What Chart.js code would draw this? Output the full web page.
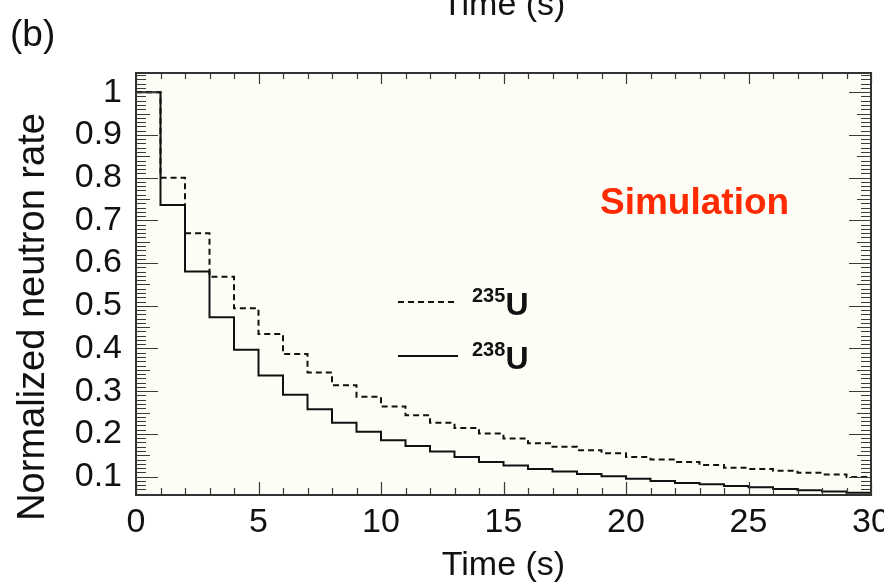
<!DOCTYPE html>
<html>
<head>
<meta charset="utf-8">
<script src="https://cdn.jsdelivr.net/npm/chart.js@4.4.1/dist/chart.umd.min.js"></script>
<style>
  html, body { margin: 0; padding: 0; background: #fff; overflow: hidden; }
  #wrap { position: relative; width: 884px; height: 586px; overflow: hidden; font-family: "Liberation Sans", Arial, Helvetica, sans-serif; color: #111; }
  #wrap canvas { position: absolute; left: 0; top: 0; }
  .txt { position: absolute; white-space: nowrap; line-height: 1; }
  .leg { font-weight: bold; font-size: 32px; }
  .leg sup { font-size: 20px; vertical-align: 0; position: relative; top: -13px; }
</style>
</head>
<body>
<div id="wrap">
  <canvas id="chart" width="884" height="586"></canvas>
  <div class="txt" style="left:10px; top:15px; font-size:37px;">(b)</div>
  <div class="txt" style="left:442px; top:-14px; font-size:34px;">Time (s)</div>
  <div class="txt" id="ytitle" style="left:31px; top:317px; font-size:38px; transform: translate(-50%, -50%) rotate(-90deg);">Normalized neutron rate</div>
  <div class="txt" style="left:600px; top:183px; font-size:37px; font-weight:bold; color:#ff2a00;">Simulation</div>
  <div class="txt leg" style="left:472px; top:288px;"><sup>235</sup>U</div>
  <div class="txt leg" style="left:472px; top:342px;"><sup>238</sup>U</div>
</div>
<script>
// bin lower edges (s), width 1 s
const timeEdges = [0, 1, 2, 3, 4, 5, 6, 7, 8, 9, 10, 11, 12, 13, 14, 15, 16, 17, 18, 19, 20, 21, 22, 23, 24, 25, 26, 27, 28, 29, 30];

// normalized neutron rate per bin
const u235 = [1.0, 0.80, 0.67, 0.568, 0.494, 0.434, 0.387, 0.344, 0.314, 0.287,
              0.264, 0.244, 0.226, 0.214, 0.201, 0.189, 0.178, 0.170, 0.162, 0.155,
              0.146, 0.140, 0.134, 0.127, 0.121, 0.118, 0.114, 0.109, 0.105, 0.099];
const u238 = [1.0, 0.736, 0.58, 0.473, 0.397, 0.337, 0.292, 0.258, 0.226, 0.205,
              0.185, 0.172, 0.159, 0.146, 0.134, 0.126, 0.118, 0.112, 0.106, 0.101,
              0.095, 0.090, 0.085, 0.082, 0.078, 0.075, 0.071, 0.068, 0.065, 0.062];

const xTicks = [0, 5, 10, 15, 20, 25, 30];
const yTicks = [0.1, 0.2, 0.3, 0.4, 0.5, 0.6, 0.7, 0.8, 0.9, 1];

const FONT = '"Liberation Sans", Arial, Helvetica, sans-serif';
const AXIS = '#3a3a3a';

// histogram -> step points (last bin closed at its upper edge)
function toSteps(vals) {
  const pts = vals.map((v, i) => ({ x: timeEdges[i], y: v }));
  pts.push({ x: timeEdges[vals.length], y: vals[vals.length - 1] });
  return pts;
}

const framePlugin = {
  id: 'frame',
  beforeDatasetsDraw(chart) {
    const { ctx, chartArea: a } = chart;
    ctx.save();
    ctx.fillStyle = '#fdfdf6';
    ctx.fillRect(a.left, a.top, a.right - a.left, a.bottom - a.top);
    ctx.restore();
  },
  afterDraw(chart) {
    const { ctx, chartArea: a, scales: { x, y } } = chart;
    ctx.save();
    ctx.strokeStyle = AXIS;
    ctx.lineWidth = 1.2;
    ctx.beginPath();
    // x ticks: every 1 s, longer at 5 s (bottom and top)
    for (let t = 0; t <= 30; t++) {
      const px = Math.round(x.getPixelForValue(t)) + 0.5;
      const len = t % 5 === 0 ? 13 : 7;
      ctx.moveTo(px, a.bottom); ctx.lineTo(px, a.bottom - len);
      ctx.moveTo(px, a.top); ctx.lineTo(px, a.top + (t % 5 === 0 ? 11 : 6));
    }
    // y ticks: every 0.01, longer at 0.05 and 0.1 (left and right)
    for (let k = 6; k <= 104; k++) {
      const py = Math.round(y.getPixelForValue(k / 100)) + 0.5;
      const len = k % 10 === 0 ? 22 : (k % 5 === 0 ? 14 : 10);
      ctx.moveTo(a.left, py); ctx.lineTo(a.left + len, py);
      ctx.moveTo(a.right, py); ctx.lineTo(a.right - len, py);
    }
    ctx.stroke();
    // frame
    ctx.lineWidth = 2;
    ctx.strokeStyle = '#333';
    ctx.strokeRect(a.left, a.top, a.right - a.left, a.bottom - a.top);
    // legend line samples
    chart.data.datasets.forEach((ds, i) => {
      const ly = i === 0 ? 302 : 356;
      ctx.beginPath();
      ctx.setLineDash(ds.borderDash || []);
      ctx.lineWidth = ds.borderWidth;
      ctx.strokeStyle = ds.borderColor;
      ctx.moveTo(398, ly); ctx.lineTo(458, ly);
      ctx.stroke();
    });
    ctx.restore();
  }
};

new Chart(document.getElementById('chart'), {
  type: 'line',
  data: {
    datasets: [
      { label: '235U', data: toSteps(u235), borderColor: '#111', borderWidth: 2, borderDash: [6, 4], stepped: true, pointRadius: 0, fill: false },
      { label: '238U', data: toSteps(u238), borderColor: '#111', borderWidth: 2, stepped: true, pointRadius: 0, fill: false },
    ],
  },
  options: {
    responsive: false,
    animation: false,
    events: [],
    layout: { padding: { left: 0, right: 13, top: 73, bottom: 0 } },
    plugins: { legend: { display: false }, tooltip: { enabled: false } },
    scales: {
      x: {
        type: 'linear', min: 0, max: 30,
        afterBuildTicks: s => { s.ticks = xTicks.map(v => ({ value: v })); },
        afterFit: s => { s.height = 91; s.paddingLeft = 0; s.paddingRight = 0; },
        grid: { display: false, drawTicks: false },
        border: { display: false },
        ticks: { padding: 7, color: '#111', maxRotation: 0, autoSkip: false, font: { family: FONT, size: 34 } },
        title: { display: true, text: 'Time (s)', color: '#111', font: { family: FONT, size: 34 }, padding: { top: 0, bottom: 0 } },
      },
      y: {
        type: 'linear', min: 0.057, max: 1.045,
        afterBuildTicks: s => { s.ticks = yTicks.map(v => ({ value: v })); },
        afterFit: s => { s.width = 136; s.paddingTop = 0; s.paddingBottom = 0; },
        grid: { display: false, drawTicks: false },
        border: { display: false },
        ticks: { padding: 14, color: '#111', autoSkip: false, font: { family: FONT, size: 34 }, callback: v => String(+v.toFixed(2)) },
      },
    },
  },
  plugins: [framePlugin],
});
</script>
</body>
</html>
